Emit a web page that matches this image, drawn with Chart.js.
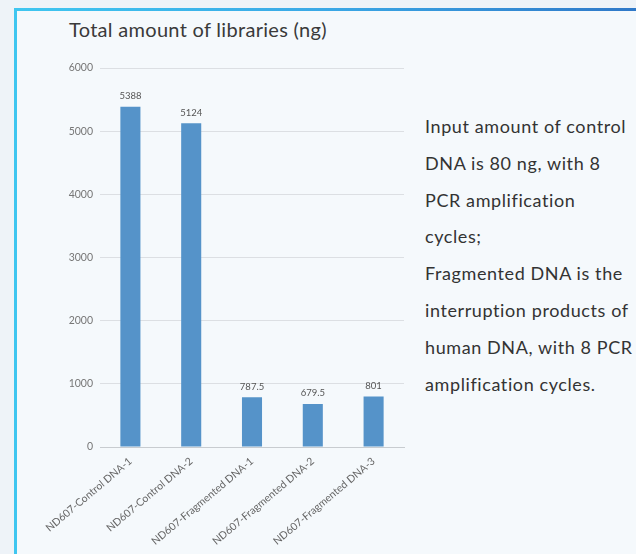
<!DOCTYPE html>
<html><head><meta charset="utf-8">
<script src="https://cdn.jsdelivr.net/npm/chart.js@4.4.0/dist/chart.umd.min.js"></script>
<style>
html,body{margin:0;padding:0;width:636px;height:554px;overflow:hidden;background:#eef3f8;font-family:Lato,"Open Sans",sans-serif;}
#box{position:absolute;left:14px;top:8px;width:700px;height:600px;background:#f5f9fc;border-left:3px solid #3fc6f0;}
#topbar{position:absolute;left:14px;top:8px;width:622px;height:3px;background:linear-gradient(90deg,#3fc6f0,#3aa8e6 50%,#2f78c8);}
#title{position:absolute;left:69px;top:17px;font-size:20px;color:#3a3a3a;white-space:nowrap;letter-spacing:0.3px;}
#note{position:absolute;left:425px;top:108px;font-size:18px;line-height:36.8px;color:#333;white-space:nowrap;letter-spacing:0.6px;}
#wrap{position:absolute;left:0;top:0;width:420px;height:554px;}
</style></head>
<body>
<div id="box"></div><div id="topbar"></div>
<div id="title">Total amount of libraries (ng)</div>
<div id="note">Input amount of control<br>DNA is 80 ng, with 8<br>PCR amplification<br>cycles;<br>Fragmented DNA is the<br>interruption products of<br>human DNA, with 8 PCR<br>amplification cycles.</div>
<div id="wrap"><canvas id="c" width="420" height="554"></canvas></div>
<script>
const categories = ["ND607-Control DNA-1","ND607-Control DNA-2","ND607-Fragmented DNA-1","ND607-Fragmented DNA-2","ND607-Fragmented DNA-3"];
const values = [5388, 5124, 787.5, 679.5, 801];
const valueLabels = ["5388","5124","787.5","679.5","801"];
const yTicks = [0,1000,2000,3000,4000,5000,6000];

const labelPlugin = {
  id:'vlabels',
  afterDatasetsDraw(chart){
    const ctx = chart.ctx;
    const meta = chart.getDatasetMeta(0);
    ctx.save();
    ctx.font = '9.5px Lato, sans-serif';
    ctx.fillStyle = '#555';
    ctx.textAlign = 'center';
    ctx.textBaseline = 'bottom';
    meta.data.forEach((bar,i)=>{
      ctx.fillText(valueLabels[i], bar.x, bar.y - 6);
    });
    ctx.restore();
  }
};

new Chart(document.getElementById('c'), {
  type:'bar',
  data:{labels:categories, datasets:[{data:values, backgroundColor:'#5593c9', barPercentage:0.66, categoryPercentage:0.5}]},
  options:{
    responsive:false, animation:false,
    layout:{padding:{left:0,right:16,top:68,bottom:0}},
    plugins:{legend:{display:false},title:{display:false},tooltip:{enabled:false}},
    scales:{
      y:{min:0,max:6000,
        afterBuildTicks(s){ s.ticks = yTicks.map(v=>({value:v})); },
        afterFit(s){ s.width = 100; },
        grid:{color:'#dcdfe3',drawTicks:false},
        border:{display:false},
        ticks:{padding:7,color:'#777',font:{size:10.5,family:'Lato, sans-serif'},callback:(v)=>String(v)}
      },
      x:{
        afterFit(s){ s.height = 107; },
        grid:{display:false},
        border:{display:true,color:'#c8ccd0'},
        ticks:{minRotation:40,maxRotation:40,padding:0,color:'#666',font:{size:10.5,family:'Lato, sans-serif'}}
      }
    }
  },
  plugins:[labelPlugin]
});
</script>
</body></html>
